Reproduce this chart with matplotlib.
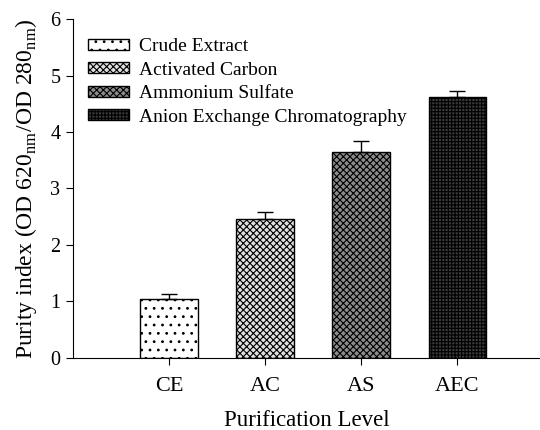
import numpy as np
import matplotlib
matplotlib.use('Agg')
import matplotlib.pyplot as plt

plt.rcParams['font.family'] = ['Liberation Serif', 'DejaVu Serif']
plt.rcParams['hatch.linewidth'] = 0.8

# data
levels = ['CE', 'AC', 'AS', 'AEC']
names = ['Crude Extract', 'Activated Carbon', 'Ammonium Sulfate', 'Anion Exchange Chromatography']
purity = [1.03, 2.46, 3.64, 4.62]
purity_err = [0.09, 0.12, 0.20, 0.10]

faces = ['white', '#e0e0e0', '#8c8c8c', '#3a3a3a']
hatches = ['..', 'xxxxx', 'xxxxx', '+++++']

fig = plt.figure(figsize=(5.4, 4.3), dpi=100)
ax = fig.add_axes([0.135, 0.1686, 0.865, 0.7864])

x = np.arange(len(levels))
for i in range(len(levels)):
    ax.bar(x[i], purity[i], width=0.6, color=faces[i], edgecolor='black', hatch=hatches[i],
           linewidth=1.0, label=names[i])
    ax.errorbar(x[i], purity[i], yerr=[[0], [purity_err[i]]], fmt='none', ecolor='black',
                elinewidth=1.0, capsize=6, capthick=1.0)

ax.set_xlim(-1.0, 3.86)
ax.set_ylim(0, 6)
ax.set_yticks(range(0, 7))
ax.set_xticks(x)
ax.set_xticklabels(levels)
ax.spines['top'].set_visible(False)
ax.spines['right'].set_visible(False)
ax.tick_params(axis='x', direction='out', length=5, pad=9, labelsize=16)
ax.tick_params(axis='y', direction='out', length=5, pad=4, labelsize=14.5)
ax.set_xlabel('Purification Level', fontsize=16.5, labelpad=10)
ax.set_ylabel('Purity index (OD 620$_{\\mathregular{nm}}$/OD 280$_{\\mathregular{nm}}$)', fontsize=17, labelpad=8)

ax.legend(loc='upper left', frameon=False, fontsize=14, handlelength=2.1, handleheight=0.5,
          labelspacing=0.33, handletextpad=0.5, bbox_to_anchor=(0.0, 0.99), borderaxespad=0.4)

plt.savefig('out.png', dpi=100)
